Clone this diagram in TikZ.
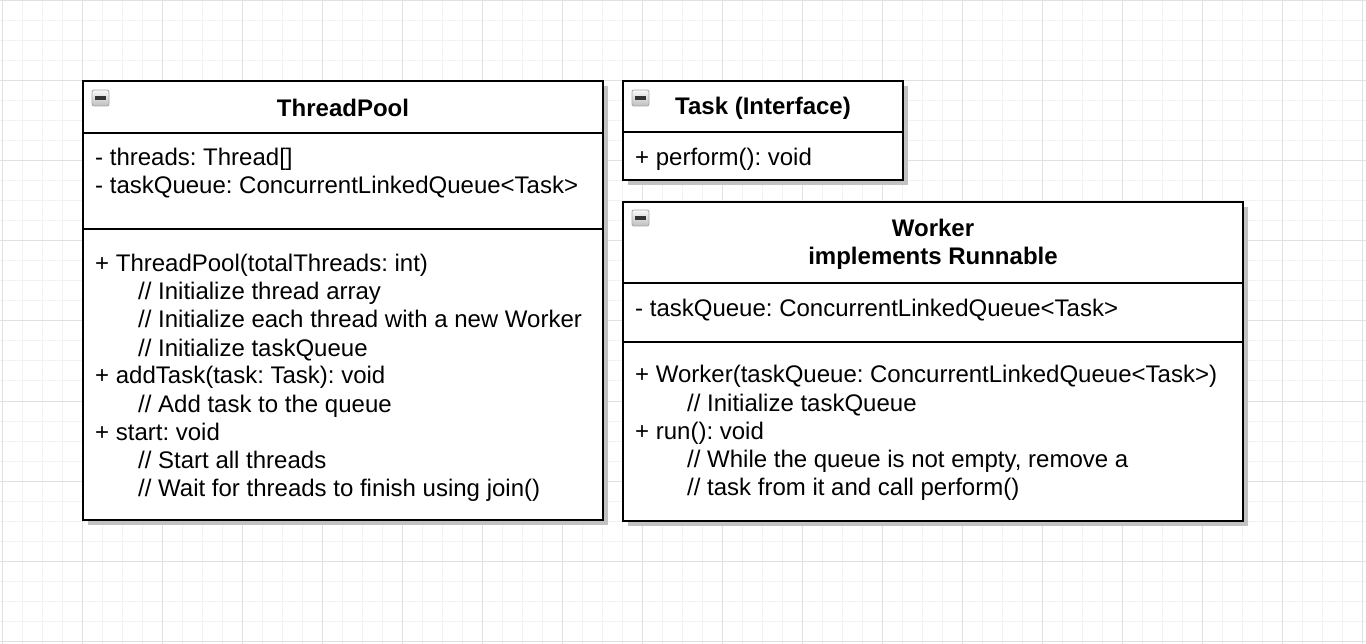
\documentclass[tikz,border=0pt]{standalone}
\usepackage{fontspec}
\setmainfont{Liberation Sans}
\usepackage{xcolor}
\usetikzlibrary{calc}
\frenchspacing

\definecolor{gridminor}{HTML}{F2F2F2}
\definecolor{gridmajor}{HTML}{E0E0E0}
\definecolor{shadowgray}{HTML}{C2C2C2}

\newcommand{\umlfont}{\fontsize{24}{28}\selectfont}

\tikzset{
  umlbox/.style={draw=black, fill=white, line width=2.5pt},
  boxshadow/.style={fill=shadowgray},
  divider/.style={line width=2.5pt},
  member/.style={anchor=base west, inner sep=0pt, font=\umlfont},
  classname/.style={anchor=base, inner sep=0pt, font=\umlfont\bfseries},
  gridline/.style={draw=gridminor, line width=1pt},
  gridbold/.style={draw=gridmajor, line width=1pt}
}

% collapse icon at top left of a class box
\newcommand{\minusicon}[1]{%
  \shade[top color=gray!5, bottom color=gray!50, draw=gray!70, line width=0.8pt,
    rounded corners=2pt] (#1) rectangle ++(17,16);
  \draw[line width=3.5pt, black!80] ($(#1)+(3,8)$) -- ++(11,0);}

\begin{document}
\begin{tikzpicture}[x=1pt, y=-1pt]

    % Canvas
    \useasboundingbox (0,0) rectangle (1366,644);
    \fill[white] (0,0) rectangle (1366,644);

    % Grid
    \foreach \gx in {2,22,...,1362} \draw[gridline] (\gx,0) -- (\gx,644);
    \foreach \gy in {1,21,...,641} \draw[gridline] (0,\gy) -- (1366,\gy);
    \foreach \gx in {2,82,...,1362} \draw[gridbold] (\gx,0) -- (\gx,644);
    \foreach \gy in {1,81,...,641} \draw[gridbold] (0,\gy) -- (1366,\gy);

    % --- ThreadPool ---
    \coordinate (tpNW) at (83,81);
    \coordinate (tpSE) at (603,520);
    \fill[boxshadow] ($(tpNW)+(5,5)$) rectangle ($(tpSE)+(5,5)$);
    \draw[umlbox] (tpNW) rectangle (tpSE);
    \draw[divider] (83,133) -- (603,133);
    \draw[divider] (83,229) -- (603,229);
    \coordinate (tpIcon) at (92,90);
    \minusicon{tpIcon}

    \node[classname] (tp-name) at (343,117) {ThreadPool};

    \node[member] (tp-attr1) at (95,166) {- threads: Thread[]};
    \node[member] (tp-attr2) at (95,194) {- taskQueue: ConcurrentLinkedQueue<Task>};

    \node[member] (tp-op1)  at (95,272)  {+ ThreadPool(totalThreads: int)};
    \node[member] (tp-c1)   at (138,300) {// Initialize thread array};
    \node[member] (tp-c2)   at (138,328) {// Initialize each thread with a new Worker};
    \node[member] (tp-c3)   at (138,356) {// Initialize taskQueue};
    \node[member] (tp-op2)  at (95,384)  {+ addTask(task: Task): void};
    \node[member] (tp-c4)   at (138,412) {// Add task to the queue};
    \node[member] (tp-op3)  at (95,440)  {+ start: void};
    \node[member] (tp-c5)   at (138,468) {// Start all threads};
    \node[member] (tp-c6)   at (138,496) {// Wait for threads to finish using join()};

    % --- Task (Interface) ---
    \coordinate (taskNW) at (623,81);
    \coordinate (taskSE) at (903,180);
    \fill[boxshadow] ($(taskNW)+(5,5)$) rectangle ($(taskSE)+(5,5)$);
    \draw[umlbox] (taskNW) rectangle (taskSE);
    \draw[divider] (623,132) -- (903,132);
    \coordinate (taskIcon) at (632,90);
    \minusicon{taskIcon}

    \node[classname] (task-name) at (763,115) {Task (Interface)};
    \node[member] (task-op1) at (635,166) {+ perform(): void};

    % --- Worker ---
    \coordinate (wkNW) at (623,202);
    \coordinate (wkSE) at (1243,521);
    \fill[boxshadow] ($(wkNW)+(5,5)$) rectangle ($(wkSE)+(5,5)$);
    \draw[umlbox] (wkNW) rectangle (wkSE);
    \draw[divider] (623,283) -- (1243,283);
    \draw[divider] (623,342) -- (1243,342);
    \coordinate (wkIcon) at (632,210);
    \minusicon{wkIcon}

    \node[classname] (wk-name)  at (933,237) {Worker};
    \node[classname] (wk-impl)  at (933,265) {implements Runnable};

    \node[member] (wk-attr1) at (635,317) {- taskQueue: ConcurrentLinkedQueue<Task>};

    \node[member] (wk-op1) at (635,383) {+ Worker(taskQueue: ConcurrentLinkedQueue<Task>)};
    \node[member] (wk-c1)  at (687,411) {// Initialize taskQueue};
    \node[member] (wk-op2) at (635,439) {+ run(): void};
    \node[member] (wk-c2)  at (687,467) {// While the queue is not empty, remove a};
    \node[member] (wk-c3)  at (687,495) {// task from it and call perform()};

\end{tikzpicture}
\end{document}
